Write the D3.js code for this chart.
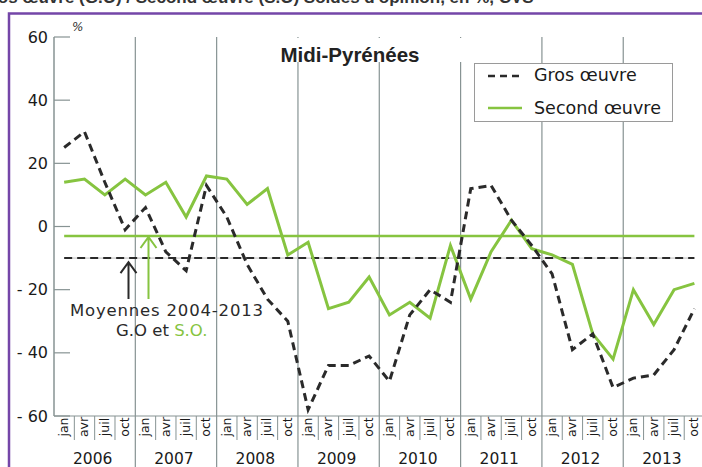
<!DOCTYPE html>
<html><head><meta charset="utf-8">
<script src="https://cdn.jsdelivr.net/npm/d3@7/dist/d3.min.js"></script>
<style>body{margin:0;background:#fff}svg{display:block}</style>
</head><body>
<svg id="c" width="702" height="467"></svg>
<script>
const years = [2006, 2007, 2008, 2009, 2010, 2011, 2012, 2013];
const quarters = ["jan", "avr", "juil", "oct"];
const grosOeuvre = [25, 30, 14, -1, 6, -8, -14, 13, 3, -12, -23, -30, -58, -44, -44, -41,
  -49, -28, -20, -24, 12, 13, 2, -6, -15, -39, -34, -51, -48, -47, -39, -26];
const secondOeuvre = [14, 15, 10, 15, 10, 14, 3, 16, 15, 7, 12, -9, -5, -26, -24, -16,
  -28, -24, -29, -6, -23, -8, 2, -7, -9, -12, -34, -42, -20, -31, -20, -18];
const avgGO = -10;
const avgSO = -3;
const yTicks = [60, 40, 20, 0, -20, -40, -60];

const svg = d3.select("#c");
const n = years.length * quarters.length;
const x = d3.scaleLinear().domain([0, n]).range([54, 54 + n * 20.33]);
const y = d3.scaleLinear().domain([-60, 60]).range([416, 37]);
const grid = "#879393";
const green = "#86c440";
const dark = "#2a2a2a";
const font = "'DejaVu Sans', Verdana, sans-serif";

// cut-off header text (partially outside the top edge, as in the reference)
svg.append("text").attr("x", -22).attr("y", 3)
  .attr("font-family", "'Liberation Sans', Arial, sans-serif").attr("font-weight", "bold")
  .attr("font-size", 17).attr("fill", "#333")
  .text("Gros œuvre (G.O) / Second œuvre (S.O) Soldes d'opinion, en %, CVS");

// purple frame
svg.append("path").attr("d", "M9,467 V13.5 H702").attr("fill", "none")
  .attr("stroke", "#7446a8").attr("stroke-width", 2.5);

// year grid lines
svg.selectAll("line.yg").data(years.slice(1)).join("line")
  .attr("x1", (d, i) => x((i + 1) * 4)).attr("x2", (d, i) => x((i + 1) * 4))
  .attr("y1", y(60)).attr("y2", 467).attr("stroke", grid).attr("stroke-width", 1.2);

// left axis
svg.append("line").attr("x1", 54).attr("x2", 54).attr("y1", y(60)).attr("y2", y(-60))
  .attr("stroke", grid).attr("stroke-width", 1.5);
svg.append("line").attr("x1", 54).attr("x2", 702).attr("y1", y(-60)).attr("y2", y(-60))
  .attr("stroke", grid).attr("stroke-width", 1.2);
svg.selectAll("line.tk").data(yTicks).join("line")
  .attr("x1", 54).attr("x2", 70).attr("y1", d => y(d)).attr("y2", d => y(d))
  .attr("stroke", grid).attr("stroke-width", 1.2);
svg.selectAll("text.tl").data(yTicks).join("text")
  .attr("x", 48).attr("y", d => y(d) + 5.5).attr("text-anchor", "end")
  .attr("font-family", font).attr("font-size", 16).attr("fill", "#1a1a1a")
  .text(d => d < 0 ? "- " + Math.abs(d) : d);
svg.append("text").attr("x", 72).attr("y", 31).attr("font-family", font)
  .attr("font-style", "italic").attr("font-size", 12).attr("fill", "#333").text("%");

// x quarter separators and labels
const slots = d3.range(n);
svg.selectAll("line.qs").data(slots.filter(i => i % 4 !== 0)).join("line")
  .attr("x1", d => x(d)).attr("x2", d => x(d)).attr("y1", 416).attr("y2", 440)
  .attr("stroke", grid).attr("stroke-width", 1);
svg.selectAll("text.ql").data(slots).join("text")
  .attr("transform", d => `translate(${x(d + 0.5) + 4},427) rotate(-90)`)
  .attr("text-anchor", "middle").attr("font-family", font).attr("font-size", 12.5)
  .attr("fill", "#1a1a1a").text(d => quarters[d % 4]);
svg.selectAll("text.yr").data(years).join("text")
  .attr("x", (d, i) => x(i * 4 + 2) - 2).attr("y", 464).attr("text-anchor", "middle")
  .attr("font-family", font).attr("font-size", 15.5).attr("fill", "#1a1a1a").text(d => d);

// title with white background
svg.append("rect").attr("x", 287).attr("y", 38).attr("width", 180).attr("height", 24).attr("fill", "#fff");
svg.append("text").attr("x", 350).attr("y", 62).attr("text-anchor", "middle")
  .attr("font-family", "'Liberation Sans', Arial, sans-serif").attr("font-weight", "bold")
  .attr("font-size", 20.5).attr("fill", "#222").text("Midi-Pyrénées");

// legend
svg.append("rect").attr("x", 474.5).attr("y", 63.5).attr("width", 198).attr("height", 58)
  .attr("fill", "#fff").attr("stroke", "#9a9a9a").attr("stroke-width", 1);
svg.append("line").attr("x1", 488).attr("x2", 522).attr("y1", 76).attr("y2", 76)
  .attr("stroke", dark).attr("stroke-width", 2.5).attr("stroke-dasharray", "7,5");
svg.append("line").attr("x1", 488).attr("x2", 522).attr("y1", 108).attr("y2", 108)
  .attr("stroke", green).attr("stroke-width", 2.5);
svg.append("text").attr("x", 534).attr("y", 81).attr("font-family", font)
  .attr("font-size", 17.5).attr("fill", "#1a1a1a").text("Gros œuvre");
svg.append("text").attr("x", 534).attr("y", 114).attr("font-family", font)
  .attr("font-size", 17.5).attr("fill", "#1a1a1a").text("Second œuvre");

// average lines
svg.append("line").attr("x1", x(0.5)).attr("x2", x(n - 0.5)).attr("y1", y(avgSO)).attr("y2", y(avgSO))
  .attr("stroke", green).attr("stroke-width", 2.5);
svg.append("line").attr("x1", x(0.5)).attr("x2", x(n - 0.5)).attr("y1", y(avgGO)).attr("y2", y(avgGO))
  .attr("stroke", "#bdbdbd").attr("stroke-width", 1);
svg.append("line").attr("x1", x(0.5)).attr("x2", x(n - 0.5)).attr("y1", y(avgGO)).attr("y2", y(avgGO))
  .attr("stroke", dark).attr("stroke-width", 2).attr("stroke-dasharray", "8,5");

// series lines
const line = d3.line().x((d, i) => x(i + 0.5)).y(d => y(d));
svg.append("path").datum(secondOeuvre).attr("d", line).attr("fill", "none")
  .attr("stroke", green).attr("stroke-width", 3).attr("stroke-linejoin", "miter");
svg.append("path").datum(grosOeuvre).attr("d", line).attr("fill", "none")
  .attr("stroke", dark).attr("stroke-width", 3).attr("stroke-dasharray", "8,5");

// annotation arrows
function arrow(ax, yTip, color) {
  svg.append("path").attr("d", `M${ax},299 V${yTip} M${ax - 8},${yTip + 11} L${ax},${yTip} L${ax + 8},${yTip + 11}`)
    .attr("fill", "none").attr("stroke", color).attr("stroke-width", 2);
}
arrow(128.5, y(avgGO) + 4, dark);
arrow(148.5, y(avgSO) + 1, green);

svg.append("text").attr("x", 70).attr("y", 316).attr("font-family", font).attr("font-size", 16.5)
  .attr("textLength", 193).attr("lengthAdjust", "spacing").attr("fill", "#2a2a2a")
  .text("Moyennes 2004-2013");
const t2 = svg.append("text").attr("x", 116).attr("y", 336).attr("font-family", font)
  .attr("font-size", 16.5).attr("fill", "#2a2a2a");
t2.append("tspan").text("G.O et ");
t2.append("tspan").attr("fill", green).text("S.O.");
</script>
</body></html>
